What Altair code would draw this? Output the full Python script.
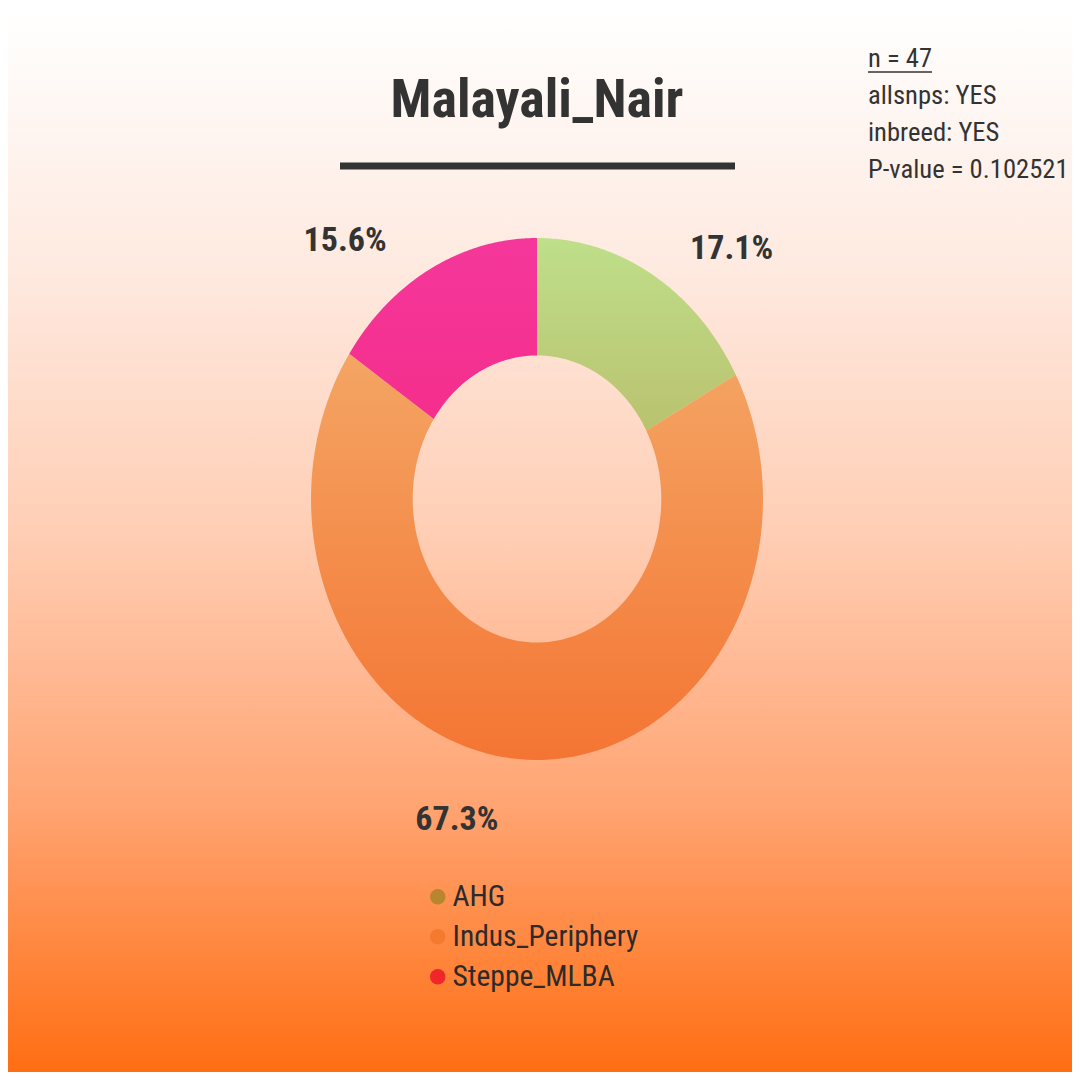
import altair as alt
import pandas as pd

# ---- data ----
groups = ["AHG", "Indus_Periphery", "Steppe_MLBA"]
shares = [17.1, 67.3, 15.6]
legend_colors = ["#b8862f", "#f47a30", "#f0262a"]
title_text = "Malayali_Nair"
info_lines = ["n = 47", "allsnps: YES", "inbreed: YES", "P-value = 0.102521"]

# ---- layout / style ----
W = H = 1064
CX, CY = 529, 491
RX, RY = 226, 261
INNER = 0.55
N = 120
FONT = "'Roboto Condensed', 'Liberation Sans Narrow', 'DejaVu Sans Condensed', Roboto, sans-serif"
TXT = "#333333"

df = pd.DataFrame({"group": groups, "share": shares, "ord": list(range(len(groups)))})

x_scale = alt.Scale(domain=[-CX / RX, (W - CX) / RX], nice=False, zero=False)
y_scale = alt.Scale(domain=[-(H - CY) / RY, CY / RY], nice=False, zero=False)


def grad(stops):
    return alt.Gradient(
        gradient="linear",
        stops=[alt.GradientStop(color=c, offset=o) for o, c in stops],
        x1=0, x2=0, y1=0, y2=1,
    )


bg_data = pd.DataFrame({"k": [0]})
background = alt.Chart(bg_data).mark_rect(
    fill=grad([(0, "#ffffff"), (0.25, "#fee9df"), (0.5, "#ffcdb3"), (0.75, "#ffa472"), (1, "#ff6e13")]),
    strokeWidth=0,
).encode(x=alt.value(0), x2=alt.value(W), y=alt.value(0), y2=alt.value(H))

base = (
    alt.Chart(df)
    .transform_window(cum="sum(share)", sort=[alt.SortField("ord")], frame=[None, 0])
    .transform_joinaggregate(total="sum(share)")
    .transform_calculate(f0="(datum.cum - datum.share) / datum.total")
    .transform_calculate(f1="datum.cum / datum.total")
)

poly = (
    base.transform_calculate(pts=f"sequence(0, {2 * N + 2})")
    .transform_flatten(["pts"])
    .transform_calculate(k=f"datum.pts <= {N} ? datum.pts / {N} : ({2 * N + 1} - datum.pts) / {N}")
    .transform_calculate(r=f"datum.pts <= {N} ? 1 : {INNER}")
    .transform_calculate(a="2 * PI * (datum.f0 + (datum.f1 - datum.f0) * datum.k)")
    .transform_calculate(ux="datum.r * sin(datum.a)")
    .transform_calculate(uy="datum.r * cos(datum.a)")
)

slice_fills = {
    "AHG": grad([(0, "#bfdf8a"), (1, "#bac26f")]),
    "Indus_Periphery": grad([(0, "#f4a564"), (1, "#f47533")]),
    "Steppe_MLBA": grad([(0, "#f5379b"), (1, "#f42e8c")]),
}


def slice_layer(name):
    return (
        poly.transform_filter(alt.datum.group == name)
        .mark_line(fill=slice_fills[name], strokeWidth=0, interpolate="linear")
        .encode(
            x=alt.X("ux:Q", scale=x_scale, axis=None),
            y=alt.Y("uy:Q", scale=y_scale, axis=None),
            order=alt.Order("pts:Q"),
        )
    )


slices = [slice_layer(g) for g in groups]

labels = (
    base.transform_calculate(mid="PI * (datum.f0 + datum.f1)")
    .transform_calculate(lx="1.7 * sin(datum.mid)")
    .transform_calculate(ly="1.12 * cos(datum.mid)")
    .transform_calculate(lab="format(datum.share, '.1f') + '%'")
)
label_shift = {"AHG": (-2, 1), "Indus_Periphery": (-62, 29), "Steppe_MLBA": (-11, 0)}


def label_layer(name):
    dx, dy = label_shift[name]
    return labels.transform_filter(alt.datum.group == name).mark_text(
        font=FONT, fontSize=34, fontWeight="bold", color=TXT, baseline="middle", align="center", dx=dx, dy=dy
    ).encode(
        x=alt.X("lx:Q", scale=x_scale, axis=None),
        y=alt.Y("ly:Q", scale=y_scale, axis=None),
        text="lab:N",
    )


label_layers = [label_layer(g) for g in groups]

legend_layer = alt.Chart(df).mark_circle(opacity=0, size=10).encode(
    x=alt.value(CX),
    y=alt.value(CY),
    color=alt.Color(
        "group:N",
        scale=alt.Scale(domain=groups, range=legend_colors),
        legend=alt.Legend(
            title=None,
            orient="none",
            legendX=415,
            legendY=874,
            symbolType="circle",
            symbolSize=240,
            symbolOpacity=1,
            symbolStrokeWidth=0,
            labelFont=FONT,
            labelFontSize=29.5,
            labelColor="#2b2b2b",
            labelLimit=400,
            labelOffset=0,
            rowPadding=9,
        ),
    ),
)

text_data = pd.DataFrame({"k": [0]})
title_mark = alt.Chart(text_data).mark_text(
    text=title_text, font=FONT, fontSize=54, fontWeight="bold", color=TXT, align="center", baseline="alphabetic"
).encode(x=alt.value(529), y=alt.value(109))

title_rule = alt.Chart(text_data).mark_rule(color=TXT, strokeWidth=7).encode(
    x=alt.value(332), x2=alt.value(727), y=alt.value(158)
)

info = alt.Chart(text_data).mark_text(
    text=info_lines, font=FONT, fontSize=26.6, color=TXT, align="left", baseline="alphabetic", lineHeight=37
).encode(x=alt.value(860), y=alt.value(59))

info_rule = alt.Chart(text_data).mark_rule(color=TXT, strokeWidth=1.5).encode(
    x=alt.value(860), x2=alt.value(924), y=alt.value(64)
)

chart = (
    alt.layer(background, *slices, *label_layers, legend_layer, title_mark, title_rule, info, info_rule)
    .resolve_scale(color="independent")
    .properties(width=W, height=H, padding=0, autosize=alt.AutoSizeParams(type="none"))
    .configure_view(stroke=None)
)

chart.save("out.html", embed_options={"renderer": "svg", "actions": False})
